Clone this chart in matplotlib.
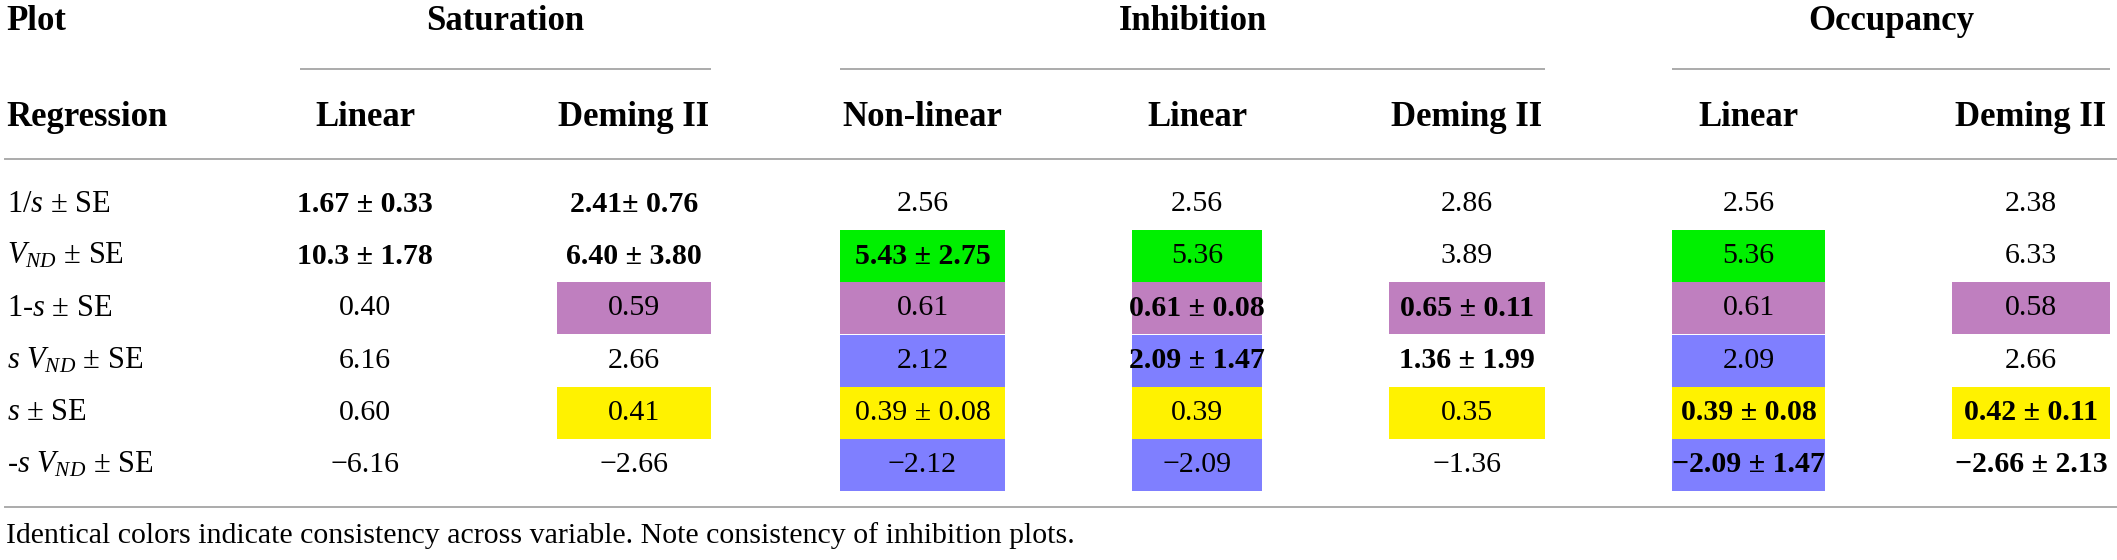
import matplotlib
matplotlib.use('Agg')
from matplotlib import pyplot as plt
from matplotlib.patches import Rectangle

# table content
groups = ['Saturation', 'Inhibition', 'Occupancy']
group_cols = [(0, 1), (2, 4), (5, 6)]
columns = ['Linear', 'Deming II', 'Non-linear', 'Linear', 'Deming II', 'Linear', 'Deming II']
row_labels = [r'$\mathit{1/s}$ ± SE', r'$V_{ND}$ ± SE', r'$\mathit{1‐s}$ ± SE',
              r'$s\ V_{ND}$ ± SE', r'$s$ ± SE', r'$\mathit{‐s}\ V_{ND}$ ± SE']

sat_lin = ['1.67 ± 0.33', '10.3 ± 1.78', '0.40', '6.16', '0.60', '−6.16']
sat_dem = ['2.41± 0.76', '6.40 ± 3.80', '0.59', '2.66', '0.41', '−2.66']
inh_non = ['2.56', '5.43 ± 2.75', '0.61', '2.12', '0.39 ± 0.08', '−2.12']
inh_lin = ['2.56', '5.36', '0.61 ± 0.08', '2.09 ± 1.47', '0.39', '−2.09']
inh_dem = ['2.86', '3.89', '0.65 ± 0.11', '1.36 ± 1.99', '0.35', '−1.36']
occ_lin = ['2.56', '5.36', '0.61', '2.09', '0.39 ± 0.08', '−2.09 ± 1.47']
occ_dem = ['2.38', '6.33', '0.58', '2.66', '0.42 ± 0.11', '−2.66 ± 2.13']
values = [sat_lin, sat_dem, inh_non, inh_lin, inh_dem, occ_lin, occ_dem]

bold = [[1, 1, 0, 0, 0, 0],
        [1, 1, 0, 0, 0, 0],
        [0, 1, 0, 0, 0, 0],
        [0, 0, 1, 1, 0, 0],
        [0, 0, 1, 1, 0, 0],
        [0, 0, 0, 0, 1, 1],
        [0, 0, 0, 0, 1, 1]]

G, P, B, Y = '#00f000', '#bf7fbf', '#7f7fff', '#fff200'
fills = [[None, None, None, None, None, None],
         [None, None, P, None, Y, None],
         [None, G, P, B, Y, B],
         [None, G, P, B, Y, B],
         [None, None, P, None, Y, None],
         [None, G, P, B, Y, B],
         [None, None, P, None, Y, None]]

footnote = 'Identical colors indicate consistency across variable. Note consistency of inhibition plots.'

# layout (pixels)
W, H = 2117, 560
col_span = [(300, 430), (557, 711), (840, 1005), (1132, 1262), (1389, 1545), (1672, 1825), (1952, 2110)]
row_y0 = 204
row_h = 52.2

plt.rcParams['font.family'] = ['Liberation Serif', 'DejaVu Serif']
plt.rcParams['mathtext.fontset'] = 'custom'
plt.rcParams['mathtext.rm'] = 'Liberation Serif'
plt.rcParams['mathtext.it'] = 'Liberation Serif:italic'
plt.rcParams['mathtext.bf'] = 'Liberation Serif:bold'

fig = plt.figure(figsize=(W / 100, H / 100), dpi=100)
ax = fig.add_axes([0, 0, 1, 1])
ax.set_xlim(0, W)
ax.set_ylim(H, 0)
ax.axis('off')

fs = 21.5
hfs = 25
line_c = '#ababab'

ax.text(6, 22, 'Plot', fontsize=hfs, fontweight='bold', va='center', ha='left')
ax.text(6, 117, 'Regression', fontsize=hfs, fontweight='bold', va='center', ha='left')
for g, (a, b) in zip(groups, group_cols):
    x0, x1 = col_span[a][0], col_span[b][1]
    ax.text((x0 + x1) / 2, 22, g, fontsize=hfs, fontweight='bold', va='center', ha='center')
    ax.plot([x0, x1], [69, 69], color=line_c, lw=1.4, solid_capstyle='butt')

for j, name in enumerate(columns):
    cx = sum(col_span[j]) / 2
    ax.text(cx, 117, name, fontsize=hfs, fontweight='bold', va='center', ha='center')

ax.plot([5, W], [159, 159], color=line_c, lw=1.4)
ax.plot([5, W], [507, 507], color=line_c, lw=1.4)

for i, lab in enumerate(row_labels):
    yc = row_y0 + i * row_h
    ax.text(7, yc, lab, fontsize=22, va='center', ha='left')

for j, col in enumerate(values):
    x0, x1 = col_span[j]
    cx = (x0 + x1) / 2
    for i, v in enumerate(col):
        yc = row_y0 + i * row_h
        if fills[j][i]:
            ax.add_patch(Rectangle((x0, yc - row_h / 2), x1 - x0, row_h, color=fills[j][i], lw=0))
        ax.text(cx, yc, v, fontsize=fs, va='center', ha='center',
                fontweight='bold' if bold[j][i] else 'normal')

ax.text(6, 536, footnote, fontsize=21.5, va='center', ha='left')

fig.savefig('out.png', dpi=100)
